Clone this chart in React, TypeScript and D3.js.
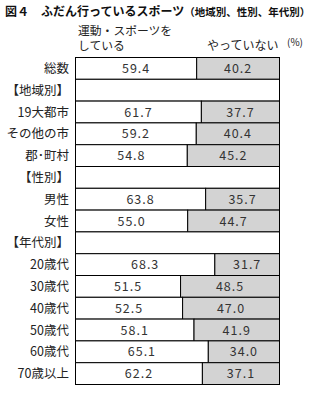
import * as d3 from "d3";
import React from "react";

const categories = [
  "総数", "【地域別】", "19大都市", "その他の市", "郡･町村",
  "【性別】", "男性", "女性",
  "【年代別】", "20歳代", "30歳代", "40歳代", "50歳代", "60歳代", "70歳以上",
];
// null = group header row (empty box)
const doing: (number | null)[] = [
  59.4, null, 61.7, 59.2, 54.8, null, 63.8, 55.0, null, 68.3, 51.5, 52.5, 58.1, 65.1, 62.2,
];
const notDoing: (number | null)[] = [
  40.2, null, 37.7, 40.4, 45.2, null, 35.7, 44.7, null, 31.7, 48.5, 47.0, 41.9, 34.0, 37.1,
];

const W = 311;
const H = 394;
const FONT = "'Noto Sans CJK JP', sans-serif";

export default function App() {
  const x = d3.scaleLinear().domain([0, 100]).range([75.5, 279.5]);
  const y = d3.scaleBand<string>().domain(categories).range([57.5, 384.5]).padding(0);
  const bh = y.bandwidth();

  return (
    <svg width={W} height={H} style={{ position: "absolute", left: 0, top: 0, background: "#fff" }}>
      <text x={5} y={16} fontFamily={FONT} fontWeight="bold" fontSize={12} fill="#111">
        図４　ふだん行っているスポーツ
        <tspan fontSize={10.5}>（地域別、性別、年代別）</tspan>
      </text>
      <text x={78} y={34.5} fontFamily={FONT} fontSize={11.8} fill="#222">運動・スポーツを</text>
      <text x={78} y={50} fontFamily={FONT} fontSize={11.8} fill="#222">している</text>
      <text x={207} y={50} fontFamily={FONT} fontSize={12} fill="#222">やっていない</text>
      <text x={287} y={46} fontFamily={FONT} fontSize={10} fill="#222">(%)</text>
      {categories.map((c, i) => {
        const y0 = y(c)!;
        const a = doing[i];
        const b = notDoing[i];
        return (
          <g key={c}>
            <text
              x={69}
              y={y0 + bh / 2 + 4.5}
              textAnchor="end"
              fontFamily={FONT}
              fontSize={12.5}
              fill="#222"
            >
              {c}
            </text>
            {a === null || b === null ? (
              <rect x={x(0)} y={y0} width={x(100) - x(0)} height={bh} fill="#fff" stroke="#000" />
            ) : (
              <>
                <rect x={x(0)} y={y0} width={x(a) - x(0)} height={bh} fill="#fff" stroke="#000" />
                <rect x={x(a)} y={y0} width={x(100) - x(a)} height={bh} fill="#d3d3d3" stroke="#000" />
                <text
                  x={(x(0) + x(a)) / 2}
                  y={y0 + bh / 2 + 4.5}
                  textAnchor="middle"
                  fontFamily={FONT}
                  fontSize={12.5}
                  letterSpacing={1}
                  fill="#333"
                >
                  {a.toFixed(1)}
                </text>
                <text
                  x={(x(a) + x(100)) / 2}
                  y={y0 + bh / 2 + 4.5}
                  textAnchor="middle"
                  fontFamily={FONT}
                  fontSize={12.5}
                  letterSpacing={1}
                  fill="#333"
                >
                  {b.toFixed(1)}
                </text>
              </>
            )}
          </g>
        );
      })}
    </svg>
  );
}
